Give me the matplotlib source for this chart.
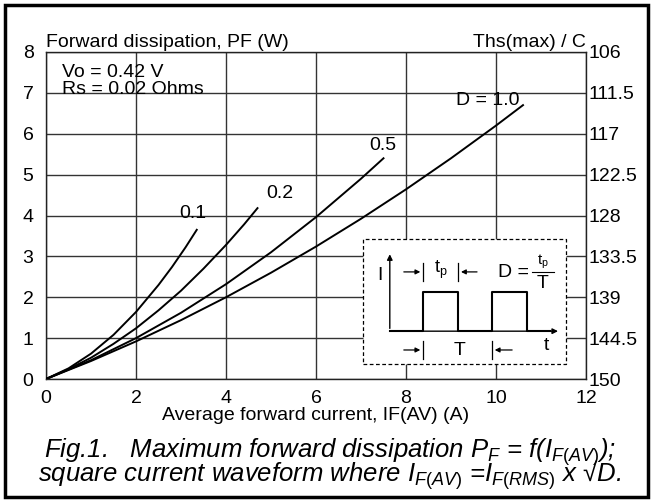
import matplotlib
matplotlib.use('Agg')
import matplotlib.pyplot as plt
from matplotlib.patches import Rectangle

plt.rcParams['font.family'] = ['Liberation Sans', 'DejaVu Sans']
plt.rcParams['mathtext.fontset'] = 'custom'
plt.rcParams['mathtext.rm'] = 'Liberation Sans'
plt.rcParams['mathtext.it'] = 'Liberation Sans:italic'

# curves: average forward current (A) vs dissipation (W)
if_d10 = [0, 1, 2, 3, 4, 5, 6, 7, 8, 9, 10, 10.6]
pf_d10 = [0, 0.44, 0.92, 1.44, 2.0, 2.6, 3.24, 3.92, 4.64, 5.4, 6.2, 6.7]
if_d05 = [0, 1, 2, 3, 4, 5, 6, 7, 7.5]
pf_d05 = [0, 0.46, 1.0, 1.62, 2.32, 3.1, 3.96, 4.9, 5.4]
if_d02 = [0, 0.5, 1, 1.5, 2, 2.5, 3, 3.5, 4, 4.4, 4.7]
pf_d02 = [0, 0.24, 0.52, 0.86, 1.24, 1.68, 2.16, 2.7, 3.28, 3.78, 4.18]
if_d01 = [0, 0.5, 1, 1.5, 2, 2.5, 2.8, 3.1, 3.35]
pf_d01 = [0, 0.26, 0.62, 1.08, 1.64, 2.3, 2.74, 3.22, 3.65]

x_ticks = [0, 2, 4, 6, 8, 10, 12]
y_ticks = [0, 1, 2, 3, 4, 5, 6, 7, 8]
ths_labels = ['150', '144.5', '139', '133.5', '128', '122.5', '117', '111.5', '106']

fs = 14
fig = plt.figure(figsize=(6.52, 5.0), dpi=100)
ax = fig.add_axes([46 / 652, 1 - 379 / 500, 540 / 652, 327 / 500])
ax.set_xlim(0, 12)
ax.set_ylim(0, 8)
ax.set_xticks(x_ticks)
ax.set_yticks(y_ticks)
ax.tick_params(axis='both', length=0, labelsize=fs, colors='black')
ax.tick_params(axis='x', pad=8)
ax.tick_params(axis='y', pad=9)
ax.grid(True, color='#333333', linewidth=1.0)
for s in ax.spines.values():
    s.set_linewidth(1.0)
    s.set_color('#222222')

for xs, ys in [(if_d10, pf_d10), (if_d05, pf_d05), (if_d02, pf_d02), (if_d01, pf_d01)]:
    ax.plot(xs, ys, color='black', linewidth=1.4, zorder=3)

# right axis with heatsink temperature
ax2 = ax.twinx()
ax2.set_ylim(0, 8)
ax2.set_yticks(y_ticks)
ax2.set_yticklabels(ths_labels)
ax2.tick_params(axis='y', length=0, pad=2, labelsize=fs)
for s in ax2.spines.values():
    s.set_visible(False)

ax.text(0, 8.02, 'Forward dissipation, PF (W)', fontsize=fs, va='bottom', ha='left')
ax.text(12, 8.02, 'Ths(max) / C', fontsize=fs, va='bottom', ha='right')
ax.text(0.35, 7.5, 'Vo = 0.42 V', fontsize=fs, va='center')
ax.text(0.35, 7.09, 'Rs = 0.02 Ohms', fontsize=fs, va='center')
ax.text(3.27, 4.06, '0.1', fontsize=fs, ha='center', va='center')
ax.text(5.2, 4.55, '0.2', fontsize=fs, ha='center', va='center')
ax.text(7.49, 5.72, '0.5', fontsize=fs, ha='center', va='center')
ax.text(9.82, 6.82, 'D = 1.0', fontsize=fs, ha='center', va='center')
ax.set_xlabel('Average forward current, IF(AV) (A)', fontsize=fs, labelpad=0)

# inset waveform box
ax.add_patch(Rectangle((7.04, 0.37), 4.52, 3.05, facecolor='white', edgecolor='black',
                       linestyle=(0, (3, 2)), linewidth=0.9, zorder=4))
z = 5
ax.annotate('', xy=(7.64, 3.12), xytext=(7.64, 1.17),
            arrowprops=dict(arrowstyle='-|>', color='black', lw=1.0, mutation_scale=8), zorder=z)
ax.annotate('', xy=(11.44, 1.17), xytext=(7.64, 1.17),
            arrowprops=dict(arrowstyle='-|>', color='black', lw=1.0, mutation_scale=8), zorder=z)
ax.plot([7.64, 8.38, 8.38, 9.16, 9.16, 9.91, 9.91, 10.69, 10.69, 11.2],
        [1.17, 1.17, 2.13, 2.13, 1.17, 1.17, 2.13, 2.13, 1.17, 1.17],
        color='black', linewidth=1.5, zorder=z)
ax.text(7.42, 2.52, 'I', fontsize=fs, ha='center', va='center', zorder=z)
ax.text(11.13, 0.83, 't', fontsize=fs, ha='center', va='center', zorder=z)

def dim_arrow(x0, x1, y):
    ax.annotate('', xy=(x1, y), xytext=(x0, y),
                arrowprops=dict(arrowstyle='-|>', color='black', lw=0.9, mutation_scale=7), zorder=z)
    ax.plot([x1, x1], [y - 0.22, y + 0.22], color='black', linewidth=0.9, zorder=z)

dim_arrow(7.89, 8.38, 2.62)
dim_arrow(9.64, 9.16, 2.62)
dim_arrow(7.89, 8.38, 0.71)
dim_arrow(10.42, 9.91, 0.71)
ax.text(8.77, 2.66, r't$_\mathrm{p}$', fontsize=13, ha='center', va='center', zorder=z)
ax.text(9.2, 0.7, 'T', fontsize=fs, ha='center', va='center', zorder=z)
ax.text(10.05, 2.6, 'D =', fontsize=fs, ha='left', va='center', zorder=z)
ax.text(11.04, 2.86, r't$_\mathrm{p}$', fontsize=11, ha='center', va='center', zorder=z)
ax.plot([10.8, 11.28], [2.62, 2.62], color='black', linewidth=0.8, zorder=z)
ax.text(11.04, 2.34, 'T', fontsize=fs, ha='center', va='center', zorder=z)

# caption
cap_fs = 18.5
fig.text(44 / 652, 1 - 452 / 500,
         r'Fig.1.   Maximum forward dissipation $P_F$ = f($I_{F(AV)}$);',
         fontsize=cap_fs, style='italic', va='center', ha='left')
fig.text(38 / 652, 1 - 475 / 500,
         r'square current waveform where $I_{F(AV)}$ =$I_{F(RMS)}$ x √D.',
         fontsize=cap_fs, style='italic', va='center', ha='left')

# outer frame
fig.add_artist(Rectangle((5 / 652, 3 / 500), 643 / 652, 492 / 500, transform=fig.transFigure,
                         fill=False, edgecolor='black', linewidth=2.5))

fig.savefig('out.png', dpi=100)
